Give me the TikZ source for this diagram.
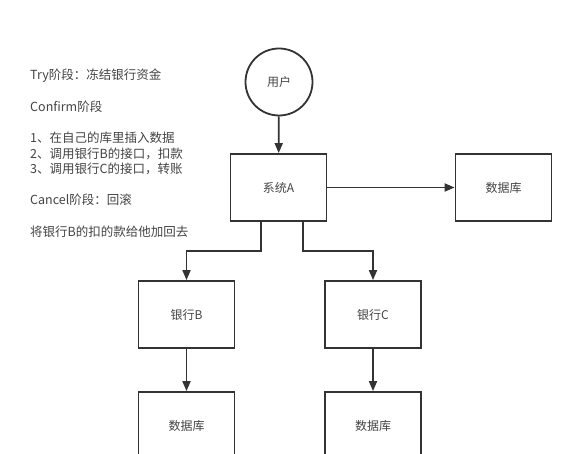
\documentclass[tikz,border=0pt]{standalone}
\usepackage{fontspec}
\setmainfont{Noto Sans CJK SC}
\usetikzlibrary{arrows.meta}
\definecolor{ln}{HTML}{333333}
\definecolor{tx}{HTML}{444444}
\begin{document}
\begin{tikzpicture}[x=1pt,y=-1pt,
  box/.style={draw=ln,line width=1.8pt,minimum width=96pt,minimum height=67pt,inner sep=0pt,font=\fontsize{12}{14}\selectfont,text=tx},
  usr/.style={draw=ln,line width=1.8pt,circle,minimum size=67pt,inner sep=0pt,font=\fontsize{12}{14}\selectfont,text=tx},
  note/.style={anchor=west,inner sep=0pt,font=\fontsize{12.5}{14}\selectfont,text=tx},
  arr/.style={draw=ln,line width=1.8pt,-{Triangle[length=10pt,width=8pt]}}]
\useasboundingbox[fill=white] (0,0) rectangle (580,454);
\node[usr] (U) at (279,82) {用户};
\node[box] (A) at (278.5,187.5) {系统A};
\node[box] (D) at (503.5,187.5) {数据库};
\node[box] (B) at (186.5,314.5) {银行B};
\node[box] (C) at (373,314.5) {银行C};
\node[box] (DB) at (186.5,425.5) {数据库};
\node[box] (DC) at (373,425.5) {数据库};
\draw[arr] (U) -- (A);
\draw[arr] (A) -- (D);
\draw[arr] ([xshift=-17.5pt]A.south) -- ++(0,29) -| (B.north);
\draw[arr] ([xshift=24.5pt]A.south) -- ++(0,29) -| (C.north);
\draw[arr] (B) -- (DB);
\draw[arr] (C) -- (DC);
\node[note] (t1) at (30,76) {Try阶段：冻结银行资金};
\node[note] (t2) at (30,107) {Confirm阶段};
\node[note] (t3) at (30,138) {1、在自己的库里插入数据};
\node[note] (t4) at (30,154) {2、调用银行B的接口，扣款};
\node[note] (t5) at (30,169) {3、调用银行C的接口，转账};
\node[note] (t6) at (30,200) {Cancel阶段：回滚};
\node[note] (t7) at (30,232) {将银行B的扣的款给他加回去};
\end{tikzpicture}
\end{document}
